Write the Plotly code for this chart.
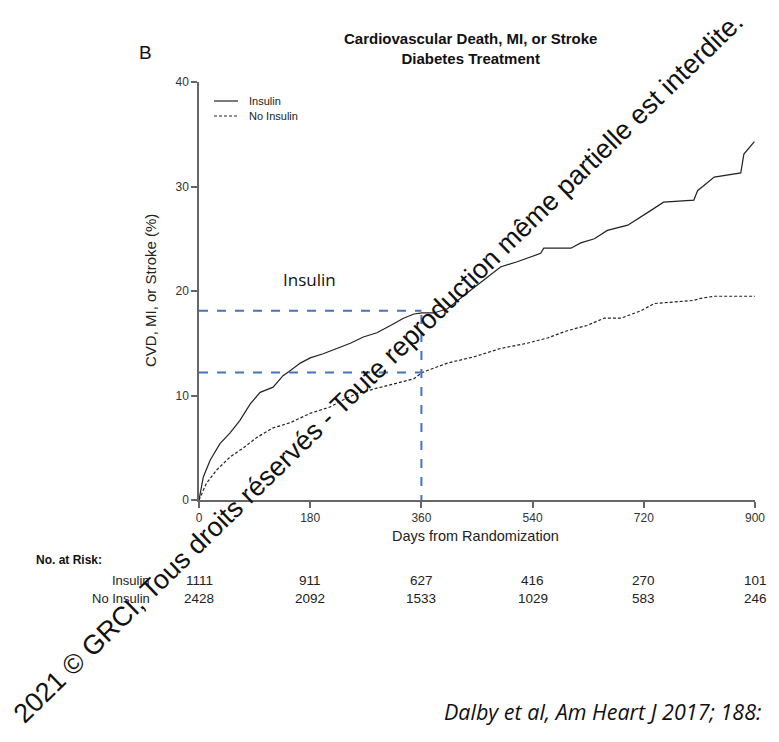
import plotly.graph_objects as go

# ---------------- data ----------------
insulin_days = [0, 7, 18, 34, 50, 66, 83, 99, 120, 136, 148, 164, 180, 201, 223, 245, 266, 288,
                310, 331, 348, 361, 380, 402, 434, 467, 488, 515, 553, 558, 602, 618, 640, 661,
                694, 726, 752, 801, 807, 834, 877, 882, 899]
insulin_pct = [0, 2.2, 3.8, 5.4, 6.4, 7.6, 9.2, 10.3, 10.8, 11.9, 12.4, 13.1, 13.6, 14.0, 14.5,
               15.0, 15.6, 16.0, 16.7, 17.4, 17.8, 17.9, 17.9, 18.3, 19.8, 21.3, 22.3, 22.8, 23.6,
               24.1, 24.1, 24.6, 25.0, 25.8, 26.3, 27.5, 28.5, 28.7, 29.6, 30.9, 31.3, 33.1, 34.3]

noins_days = [0, 12, 29, 50, 72, 94, 120, 148, 180, 212, 234, 256, 288, 321, 348, 361, 402, 445,
              488, 531, 564, 596, 628, 656, 683, 715, 737, 758, 801, 812, 834, 900]
noins_pct = [0, 1.6, 2.9, 4.1, 5.0, 6.0, 6.9, 7.4, 8.3, 8.9, 9.6, 10.2, 10.7, 11.2, 11.6, 12.2,
             13.1, 13.7, 14.5, 15.0, 15.5, 16.2, 16.7, 17.4, 17.4, 18.1, 18.8, 18.9, 19.1, 19.3,
             19.5, 19.5]

x_ticks = [0, 180, 360, 540, 720, 900]
y_ticks = [0, 10, 20, 30, 40]
risk_insulin = [1111, 911, 627, 416, 270, 101]
risk_noins = [2428, 2092, 1533, 1029, 583, 246]
legend_labels = ["Insulin", "No Insulin"]

ref_day = 360
ref_insulin = 18.1
ref_noins = 12.2

W, H = 779, 742
FONT = "Liberation Sans, Arial, sans-serif"
NARROW = "Liberation Sans Narrow, Arial Narrow, Liberation Sans, sans-serif"

def px(xp):
    return xp / W

def py(yp):
    return 1 - yp / H

fig = go.Figure()
fig.add_trace(go.Scatter(x=insulin_days, y=insulin_pct, mode="lines", name=legend_labels[0],
                         line=dict(color="#222222", width=1.2)))
fig.add_trace(go.Scatter(x=noins_days, y=noins_pct, mode="lines", name=legend_labels[1],
                         line=dict(color="#222222", width=1.2, dash="3px,2px")))

# blue reference lines
blue = "#4472C4"
for yv in (ref_insulin, ref_noins):
    fig.add_shape(type="line", xref="x", yref="y", x0=0, x1=ref_day, y0=yv, y1=yv,
                  line=dict(color=blue, width=2, dash="dash"))
fig.add_shape(type="line", xref="x", yref="y", x0=ref_day, x1=ref_day, y0=ref_insulin - 0.4, y1=0,
              line=dict(color=blue, width=2, dash="dash"))

# manual legend
for i, (lab, dsh) in enumerate(zip(legend_labels, ["solid", "3px,2px"])):
    yy = py(101 + 15 * i)
    fig.add_shape(type="line", xref="paper", yref="paper", x0=px(214), x1=px(238), y0=yy, y1=yy,
                  line=dict(color="#222", width=1.2, dash=dsh))

ann = []

def note(text, x, y, size, xanchor="center", xref="paper", family=FONT, color="#222", **kw):
    ann.append(dict(text=text, x=x, y=py(y), xref=xref, yref="paper", xanchor=xanchor,
                    yanchor="middle", showarrow=False,
                    font=dict(family=family, size=size, color=color), **kw))

for i, lab in enumerate(legend_labels):
    note(lab, px(247), 101 + 15 * i, 11, xanchor="left")
note("B", px(145), 53, 19, color="#111")
note("<b>Cardiovascular Death, MI, or Stroke</b><br><b>Diabetes Treatment</b>", px(470), 49, 15,
     color="#111", align="center")
note("CVD, MI, or Stroke (%)", px(150), 291, 15, textangle=-90)
note("Days from Randomization", px(476), 536, 14.5)
note("Insulin", px(309), 279, 17, family="Open Sans, sans-serif", color="#111")
note("<b>No. at Risk:</b>", px(104), 560, 12, xanchor="right", color="#111")
note("Insulin", px(152), 580, 13, xanchor="right", family=NARROW)
note("No Insulin", px(152), 598, 13, xanchor="right", family=NARROW)
for d, a, b in zip(x_ticks, risk_insulin, risk_noins):
    note(str(a), d, 580, 13.5, xref="x", family=NARROW)
    note(str(b), d, 598, 13.5, xref="x", family=NARROW)
note("<i>Dalby et al, Am Heart J 2017; 188:</i>", px(442), 711, 21.5, xanchor="left",
     family="Open Sans, sans-serif", color="#111")
note("2021 © GRCI, Tous droits réservés - Toute reproduction même partielle est interdite.",
     px(378), 368, 27, color="#111", textangle=-44.2)

fig.update_layout(
    width=W, height=H, margin=dict(l=0, r=0, t=0, b=0, pad=0, autoexpand=False),
    paper_bgcolor="white", plot_bgcolor="white",
    annotations=ann,
    showlegend=False,
    xaxis=dict(domain=[px(199), px(755)], range=[0, 900], tickvals=x_ticks, showgrid=False,
               automargin=False,
               zeroline=False, showline=True, linecolor="#666", linewidth=1.5, ticks="outside",
               ticklen=6, tickcolor="#666", tickwidth=1.5,
               tickfont=dict(family=FONT, size=12, color="#333")),
    yaxis=dict(domain=[py(500), py(82)], range=[0, 40], tickvals=y_ticks, showgrid=False,
               automargin=False,
               zeroline=False, showline=True, linecolor="#666", linewidth=1.5, ticks="outside",
               ticklen=6, tickcolor="#666", tickwidth=1.5,
               tickfont=dict(family=FONT, size=12, color="#333")),
)

fig.write_html("out.html")
